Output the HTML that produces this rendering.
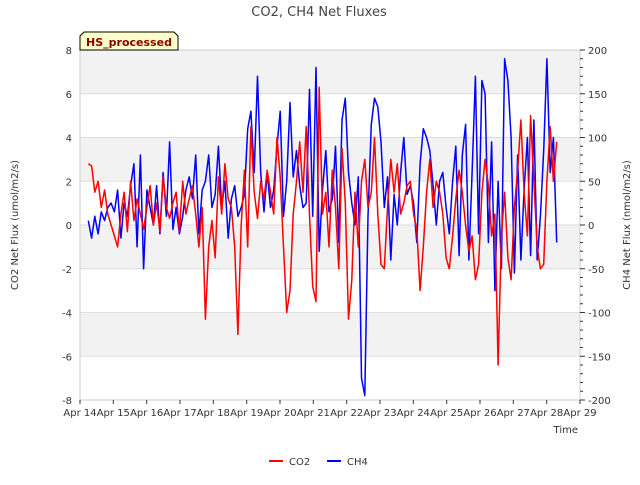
<!DOCTYPE html>
<html><head><meta charset="utf-8"><style>
body{margin:0;background:#fff;font-family:"Liberation Sans","DejaVu Sans",sans-serif}
svg text{font-family:"DejaVu Sans","Liberation Sans",sans-serif}
</style></head><body>
<svg id="chart" width="640" height="480" xmlns="http://www.w3.org/2000/svg">
<text x="319" y="16" text-anchor="middle" font-size="13" fill="#444">CO2, CH4 Net Fluxes</text>
<g id="bands"></g>
<g id="grid"></g>
<g id="series"></g>
<rect x="80" y="50" width="500" height="350" fill="none" stroke="#ccc"/>
<g id="axes" font-size="10" fill="#333"></g>
<text x="18" y="225" transform="rotate(-90 18 225)" text-anchor="middle" font-size="10" fill="#333">CO2 Net Flux (umol/m2/s)</text>
<text x="630" y="225" transform="rotate(-90 630 225)" text-anchor="middle" font-size="10" fill="#333">CH4 Net Flux (nmol/m2/s)</text>
<text x="578" y="433" text-anchor="end" font-size="10" fill="#333">Time</text>
<g>
<path d="M80,50 L80,36 L84,32 L174,32 L178,36 L178,50 Z" fill="#ffffc8" stroke="#000"/>
<text x="129" y="46" text-anchor="middle" font-size="11" font-weight="bold" fill="#8b0000">HS_processed</text>
</g>
<g>
<line x1="269" y1="461" x2="283" y2="461" stroke="#f00" stroke-width="2"/>
<text x="289" y="465" font-size="10" fill="#333">CO2</text>
<line x1="327" y1="461" x2="341" y2="461" stroke="#00f" stroke-width="2"/>
<text x="347" y="465" font-size="10" fill="#333">CH4</text>
</g>
</svg>
<script>
const xTickLabels=["Apr 14","Apr 15","Apr 16","Apr 17","Apr 18","Apr 19","Apr 20","Apr 21","Apr 22","Apr 23","Apr 24","Apr 25","Apr 26","Apr 27","Apr 28","Apr 29"];
const leftTicks=[8,6,4,2,0,-2,-4,-6,-8];
const rightTicks=[200,150,100,50,0,-50,-100,-150,-200];
const seriesStartDay=0.25;
const seriesEndDay=14.3;
const co2=[2.8,2.7,1.5,2,0.8,1.6,0.5,0,-0.5,
-1,0.5,1.5,-0.3,2,0.2,1.2,0.5,-0.2,0.8,
1.8,0,1,-0.3,2.2,0.8,0.3,1,1.5,-0.3,
2,0.5,1.2,1.8,0.5,-1,0.8,-4.3,-1,0.2,
-1.5,2.2,0.5,2.8,1.2,0.8,-1,-5,0,2.5,
-1,4.5,1.5,0.3,2,1.2,2.5,1.5,0.5,4,
2.2,-1,-4,-3,0.5,2,3.8,1.5,4.5,0.5,
-2.8,-3.5,6.3,0.5,1.5,-1,2.5,0.8,-2,3.5,
1,-4.3,-2.5,1.5,-1,2,3,0.8,1.5,4,
0.5,-1.8,-2,0.8,3,1.5,2.8,0.5,1,1.8,
2,0.5,-0.2,-3,-1,1.5,3,0.8,2,1.5,
0.5,-1.5,-2,-0.5,1.2,2.5,1.5,0,-1.2,-0.5,
-2.5,-1.8,1.5,3,1.8,-0.5,0.5,-6.4,-0.5,1.5,
-1.5,-2.5,0.8,2.5,4.8,1.5,-0.5,5,2,-1,
-2,-1.8,2,4.5,2,3.8];
const ch4=[5,-15,10,-10,15,5,20,25,15,
40,-15,25,10,45,70,-25,80,-50,40,
20,0,45,-10,60,10,95,-5,20,-10,
10,40,55,30,80,-10,40,50,80,20,
35,90,20,50,-15,30,45,10,20,35,
110,130,60,170,60,15,60,20,40,90,
130,10,50,140,55,85,45,20,25,155,
10,180,-30,40,85,15,30,90,-20,120,
145,60,25,0,55,-175,-195,10,115,145,
135,95,20,55,-40,35,0,60,100,35,
45,25,-20,70,110,100,85,45,0,50,
60,20,-10,50,90,-35,80,115,-40,60,
170,-10,165,150,-20,95,-75,50,-50,190,
165,100,-55,80,-40,40,100,-35,120,-40,
10,85,190,60,100,-20];
const NS="http://www.w3.org/2000/svg";
const X0=80,X1=580,Y0=50,Y1=400;
const xScale=d=>X0+d*(X1-X0)/15;
const yL=v=>Y0+(8-v)*(Y1-Y0)/16;
const yR=v=>Y0+(200-v)*(Y1-Y0)/400;
function mk(tag,attrs,parent){const e=document.createElementNS(NS,tag);for(const k in attrs)e.setAttribute(k,attrs[k]);parent.appendChild(e);return e;}
const bands=document.getElementById('bands'),grid=document.getElementById('grid'),axes=document.getElementById('axes'),series=document.getElementById('series');
for(let i=0;i<leftTicks.length-1;i++){
  if(i%2===0){const r=mk('rect',{x:X0,y:yL(leftTicks[i]),width:X1-X0,height:yL(leftTicks[i+1])-yL(leftTicks[i]),fill:'#f2f2f2'},bands);
  
  }
}
leftTicks.forEach(v=>{
  const l=mk('line',{x1:X0,x2:X1,y1:yL(v),y2:yL(v),stroke:'#ddd'},grid);
  
  
  const t=mk('text',{x:X0-8,y:yL(v)+4,'text-anchor':'end'},axes);t.textContent=v;
  
  
});
rightTicks.forEach(v=>{
  mk('line',{x1:X1,x2:X1+5,y1:yR(v),y2:yR(v),stroke:'#333'},axes);
  const t=mk('text',{x:X1+8,y:yR(v)+4,'text-anchor':'start'},axes);t.textContent=v;
  
  
});
for(let v=-200;v<=200;v+=10){if(v%50!==0)mk('line',{x1:X1,x2:X1+3,y1:yR(v),y2:yR(v),stroke:'#333'},axes);}
xTickLabels.forEach((s,i)=>{
  mk('line',{x1:xScale(i),x2:xScale(i),y1:Y1,y2:Y1+4,stroke:'#333'},axes);
  const t=mk('text',{x:xScale(i),y:Y1+16,'text-anchor':'middle'},axes);t.textContent=s;
  
  
});
function path(arr,ys,color,name){
  const step=(seriesEndDay-seriesStartDay)/(arr.length-1);
  const d=arr.map((v,i)=>(i?'L':'M')+xScale(seriesStartDay+i*step).toFixed(1)+','+ys(v).toFixed(1)).join('');
  const p=mk('path',{d:d,fill:'none',stroke:color,'stroke-width':1.5,'stroke-linejoin':'round'},series);
  
  
}
path(ch4,yR,'#00f','ch4-line');
path(co2,yL,'#f00','co2-line');
</script>
</body></html>
